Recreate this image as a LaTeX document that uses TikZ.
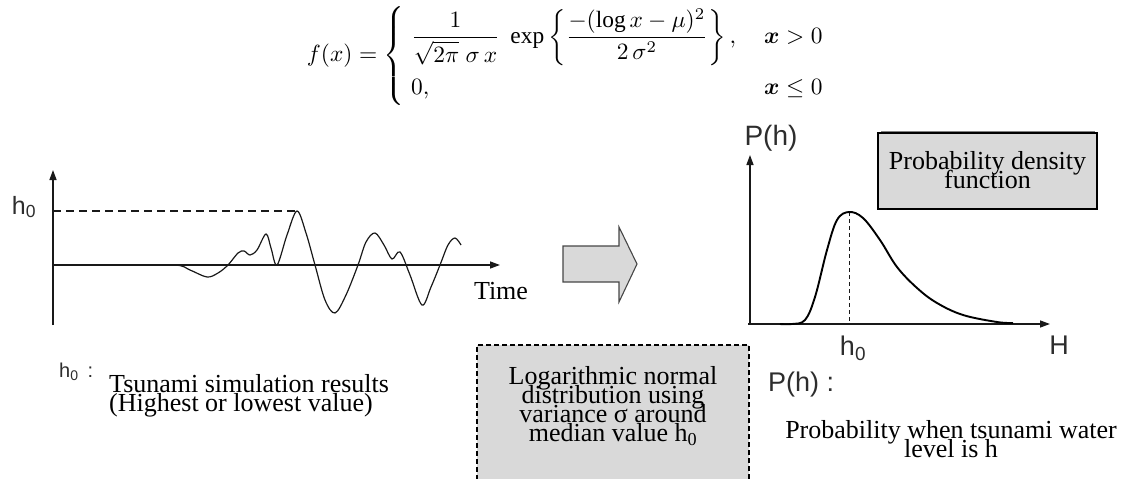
\documentclass[tikz,border=0pt]{standalone}
\usepackage{amsmath,amssymb}
\usepackage{fontspec}
\setmainfont{Liberation Serif}
\newfontfamily\arialf{Liberation Sans}
\usetikzlibrary{arrows.meta}
\definecolor{boxgray}{RGB}{217,217,217}
\definecolor{inkgray}{RGB}{25,25,25}
\definecolor{labgray}{RGB}{45,45,45}
\definecolor{edgegray}{RGB}{70,70,70}
\newcommand\mytightlines{\lineskiplimit=-30pt\relax\lineskip=0pt\relax}
\begin{document}
\begin{tikzpicture}[x=1pt,y=-1pt,
  axis/.style={line width=1.4pt, draw=inkgray, -{Triangle[length=10pt,width=7pt]}},
  wave/.style={line width=1.2pt, draw=inkgray},
  pdfline/.style={line width=1.9pt, draw=black},
  serif/.style={font=\fontsize{26}{18.8}\selectfont\mytightlines, inner sep=0pt, text=black},
  sanslab/.style={font=\arialf\fontsize{27}{30}\selectfont, inner sep=0pt, text=labgray},
  greybox/.style={fill=boxgray, draw=black, line width=1.3pt, inner sep=0pt},
  dashbox/.style={fill=boxgray, draw=black, line width=1.3pt, dash pattern=on 5pt off 3pt, inner sep=0pt},
  hdash/.style={line width=1.5pt, draw=inkgray, dash pattern=on 8pt off 5pt},
  vdash/.style={line width=0.9pt, draw=inkgray, dash pattern=on 4pt off 3pt},
]
\useasboundingbox (0,0) rectangle (1127,479);

% formula
\node[inner sep=0pt] (formula) at (572,56) {\resizebox{530pt}{!}{$f(x)=\left\{\begin{array}{@{\;}l@{\hspace{12pt}}l}\dfrac{1}{\sqrt{2\pi}\;\sigma\,x}\;\exp\left\{\dfrac{-(\log x-\mu)^2}{2\,\sigma^2}\right\}, & \boldsymbol{x}>0\\[10pt] 0, & \boldsymbol{x}\le 0\end{array}\right.$}};

% left plot
\coordinate (lO) at (53,265);
\coordinate (lB) at (53,325);
\coordinate (lT) at (53,170);
\coordinate (lX) at (500,265);
\coordinate (lH) at (53,211);
\coordinate (lP) at (297,211);
\draw[axis] (lB) -- (lT);
\draw[axis] (lO) -- (lX);
\draw[hdash] (lH) -- (lP);
\draw[wave] plot[smooth, tension=0.55] coordinates {(53,265) (120,265) (175,265) (190,270) (207,277) (218,273) (228,265) (238,253) (244,251) (250,255) (257,250) (266,234) (271,248) (277,265) (287,235) (297,211) (306,233) (315,265) (325,300) (335,313) (346,295) (358,265) (366,242) (375,233) (384,245) (392,259) (400,252) (410,275) (422,305) (431,287) (440,265) (448,245) (455,238) (461,245)};

\node[sanslab, font=\arialf\fontsize{25}{25}\selectfont] (h0left) at (24,207) {h\textsubscript{0}};
\node[serif] (time) at (501,291) {Time};
\node[sanslab, font=\arialf\fontsize{20}{20}\selectfont, anchor=west] (h0def) at (59,372) {h\textsubscript{0}\hspace{9pt}:};
\node[serif, align=left, anchor=west] (tsunami) at (109,396) {Tsunami simulation results\\(Highest or lowest value)};

% big arrow
\draw[fill=boxgray, draw=edgegray, line width=1.1pt] (563,246) -- (619,246) -- (619,227) -- (637,264) -- (619,302) -- (619,282) -- (563,282) -- cycle;

% right plot
\coordinate (rO) at (750,324);
\coordinate (rS) at (748,324);
\coordinate (rT) at (750,155);
\coordinate (rX) at (1050,324);
\coordinate (rPk) at (849,212);
\coordinate (rPb) at (849,324);
\draw[axis] (rO) -- (rT);
\draw[axis] (rS) -- (rX);
\draw[vdash] (rPk) -- (rPb);
\draw[pdfline] plot[smooth, tension=0.6] coordinates {(780,324) (792,324) (805,320) (815,297) (827,250) (837,220) (849,212) (863,218) (880,240) (897,267) (917,288) (937,303) (963,315) (997,322) (1013,323)};

\node[sanslab, font=\arialf\fontsize{28}{30}\selectfont] (Ph) at (771,138) {P(h)};
\node[sanslab] (h0right) at (853,348) {h\textsubscript{0}};
\node[sanslab] (Hlab) at (1059,345) {H};
\node[sanslab, anchor=west] (Phdef) at (768,385) {P(h) :};
\node[serif, align=center] (probtext) at (951,439) {Probability when tsunami water\\level is h};

% pdf box
\draw[gray, line width=1pt] (881,131) -- (1095,131);
\node[greybox, minimum width=219pt, minimum height=76pt] (pdfbox) at (987.5,171) {};
\node[serif, align=center] (pdftext) at (987.5,170) {Probability density\\function};

% log normal box
\node[dashbox, minimum width=272pt, minimum height=150pt] (logbox) at (613,420) {};
\node[serif, align=center] (logtext) at (613,406) {Logarithmic normal\\distribution using\\variance σ around\\median value h\textsubscript{0}};
\end{tikzpicture}
\end{document}
